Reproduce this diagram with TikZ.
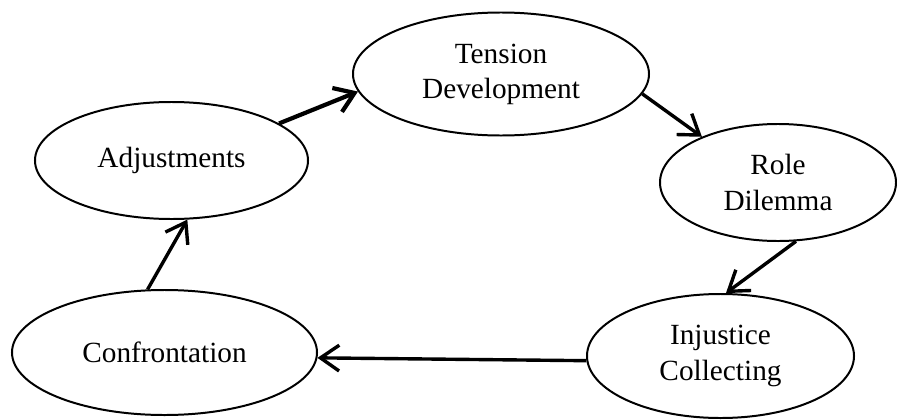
\documentclass[tikz,border=0pt]{standalone}
\usepackage{fontspec}
\setmainfont{Liberation Serif}
\usetikzlibrary{arrows.meta,shapes.geometric}

\begin{document}
\begin{tikzpicture}[x=0.03cm,y=-0.03cm,align=center,font=\fontsize{25}{30}\selectfont]
\tikzstyle{stage}=[ellipse,draw=black,line width=1.7pt,inner sep=0pt]
\tikzstyle{flow}=[-{Straight Barb[length=16pt,width=22pt]},line width=2.9pt]

\useasboundingbox (0,0) rectangle (897,419);

\node[stage, minimum width=8.88cm, minimum height=3.69cm] (tension) at (501,74) {Tension\\Development};
\node[stage, minimum width=8.19cm, minimum height=3.51cm] (adjust) at (171.5,160.5) {Adjustments};
\node[stage, minimum width=7.08cm, minimum height=3.51cm] (role) at (778,182.5) {Role\\Dilemma};
\node[stage, minimum width=9.15cm, minimum height=3.75cm] (confront) at (164.5,352.5) {Confrontation};
\node[stage, minimum width=8.01cm, minimum height=3.72cm] (injustice) at (720.5,356) {Injustice\\Collecting};

\path
  (adjust.19) edge [flow, line width=3.6pt] (tension.187)
  (tension.-8) edge [flow] (role.149)
  (role.-73) edge [flow] (injustice.85)
  (injustice.182) edge [flow] (confront.-2.5)
  (confront.105) edge [flow] (adjust.-75);
\end{tikzpicture}
\end{document}
